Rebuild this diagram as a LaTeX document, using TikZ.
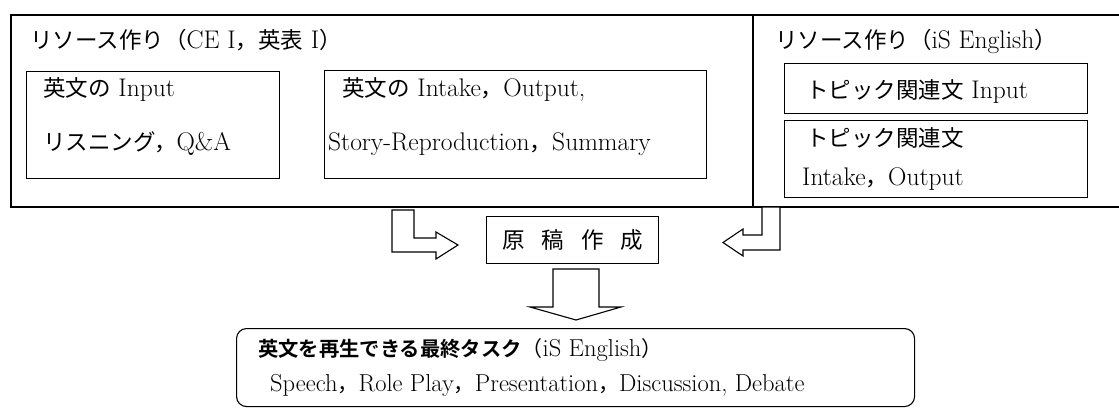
\documentclass[tikz,border=0pt]{standalone}
\usepackage{fontspec}
\newfontfamily\jpfont{Noto Sans CJK JP}[BoldFont={Noto Sans CJK JP Bold}]
\newcommand{\J}[1]{{\jpfont\fontsize{22.5}{26}\selectfont #1}}
\newcommand{\Jb}[1]{{\jpfont\bfseries\fontsize{20.3}{24}\selectfont #1}}
\newcommand{\Js}[1]{{\jpfont\fontsize{21}{24}\selectfont #1}}
\begin{document}
\begin{tikzpicture}[x=1pt,y=-1pt,
  frame/.style={draw, line width=1.6pt, anchor=north west, inner sep=0pt},
  box/.style={draw, line width=1.1pt, anchor=north west, inner sep=0pt},
  txt/.style={anchor=base west, inner sep=0pt, font=\fontsize{25.5}{29}\selectfont},
  blockarrow/.style={draw, line width=1.1pt, fill=white, line join=miter}]
\useasboundingbox (0,0) rectangle (1119,408);

% outer frames
\node[frame, minimum width=742pt, minimum height=192pt] (left) at (10,14) {};
\node[frame, minimum width=380pt, minimum height=192pt] (right) at (752,14) {};

% titles
\node[txt] (ltitle) at (30,48) {\J{リソース作り（}CE I\J{，英表} I\J{）}};
\node[txt] (rtitle) at (775,48) {\J{リソース作り（}iS English\J{）}};

% left inner boxes
\node[box, minimum width=253pt, minimum height=107pt] (in1) at (26,71) {};
\node[txt] (in1a) at (43,96) {\J{英文の} Input};
\node[txt] (in1b) at (43,150) {\J{リスニング，}Q\&A};

\node[box, minimum width=382pt, minimum height=108pt] (in2) at (324,70) {};
\node[txt] (in2a) at (342,96) {\J{英文の} Intake\J{，}Output,};
\node[txt] (in2b) at (328,150) {Story-Reproduction\J{，}Summary};

% right inner boxes
\node[box, minimum width=303pt, minimum height=50pt] (r1) at (784,63) {};
\node[txt] (r1a) at (806,98) {\J{トピック関連文} Input};
\node[box, minimum width=303pt, minimum height=77pt] (r2) at (784,120) {};
\node[txt] (r2a) at (806,146) {\J{トピック関連文}};
\node[txt] (r2b) at (802,185) {Intake\J{，}Output};

% draft box
\node[box, minimum width=172pt, minimum height=47pt] (draft) at (486,216) {};
\node[inner sep=0pt] (drafttxt) at (draft.center) {\J{原\hspace{17pt}稿\hspace{17pt}作\hspace{17pt}成}};

% block arrows
\draw[blockarrow] (392,210) -- (414,210) -- (414,238) -- (436,238) -- (436,232)
  -- (458,245) -- (436,259) -- (436,252) -- (392,252) -- cycle;
\draw[blockarrow] (780,207) -- (762,207) -- (762,235) -- (743,235) -- (743,229)
  -- (723,242.5) -- (743,256) -- (743,250) -- (780,250) -- cycle;
\draw[blockarrow] (553,269) -- (599,269) -- (599,307) -- (621,307) -- (576,320)
  -- (530,307) -- (553,307) -- cycle;

% final task box
\node[draw, line width=1.1pt, rounded corners=10pt, anchor=north west, inner sep=0pt,
  minimum width=678pt, minimum height=78pt] (final) at (236,328) {};
\node[txt, font=\fontsize{24.5}{28}\selectfont] (finala) at (258,356)
  {\Jb{英文を再生できる最終タスク}\Js{（}iS English\Js{）}};
\node[txt, font=\fontsize{24.5}{28}\selectfont] (finalb) at (270,391)
  {Speech\Js{，}Role Play\Js{，}Presentation\Js{，}Discussion, Debate};
\end{tikzpicture}
\end{document}
